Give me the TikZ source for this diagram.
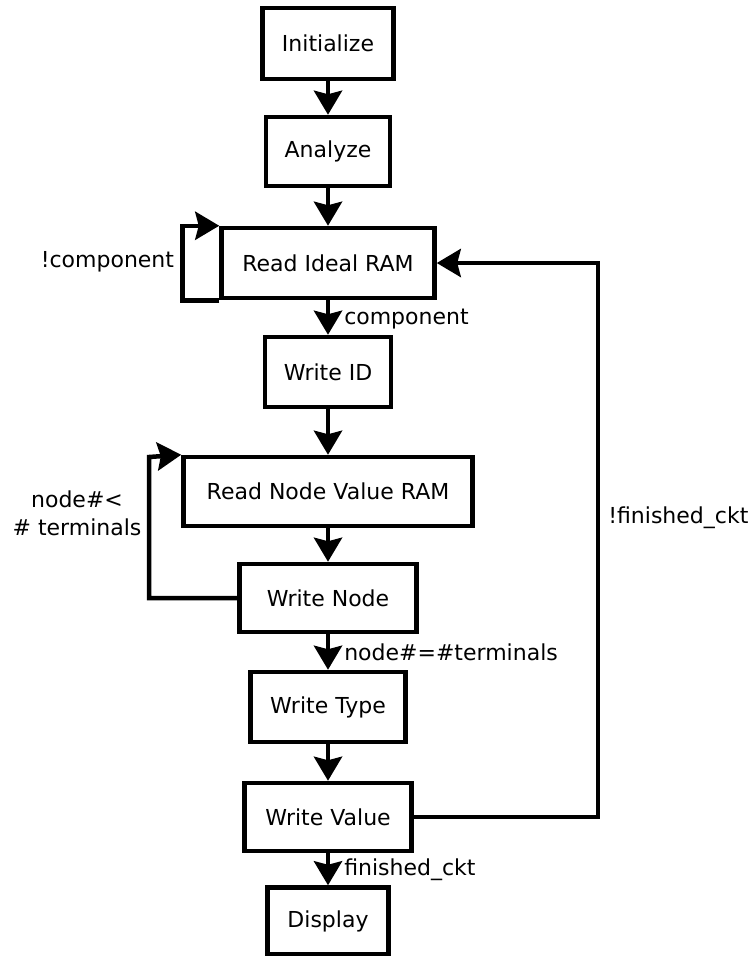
\documentclass[tikz,border=0pt]{standalone}
\usepackage{fontspec}
\setmainfont{DejaVu Sans}
\usetikzlibrary{arrows.meta,calc}
\tikzset{
	box/.style={draw,line width=4.5pt,inner sep=0pt,font=\fontsize{22}{28}\selectfont},
	flow/.style={line width=4.5pt,-{Stealth[length=24pt,width=28pt,inset=3.5pt]}},
	lbl/.style={font=\fontsize{22}{28}\selectfont,inner sep=2pt}
}
\begin{document}
\begin{tikzpicture}[x=1pt,y=-1pt]
	\useasboundingbox (0,0) rectangle (750,956);
	% main column of states
	\node[box,minimum width=131pt,minimum height=71pt] (init) at (328,43.5) {Initialize};
	\node[box,minimum width=124pt,minimum height=69pt] (analyze) at (328,151.5) {Analyze};
	\node[box,minimum width=213pt,minimum height=70pt] (readideal) at (328,263) {Read Ideal RAM};
	\node[box,minimum width=126pt,minimum height=70pt] (writeid) at (328,372) {Write ID};
	\node[box,minimum width=289pt,minimum height=69pt] (readnode) at (328,491.5) {Read Node Value RAM};
	\node[box,minimum width=177pt,minimum height=68pt] (writenode) at (328,598) {Write Node};
	\node[box,minimum width=155pt,minimum height=70pt] (writetype) at (328,707) {Write Type};
	\node[box,minimum width=167pt,minimum height=68pt] (writevalue) at (328,817) {Write Value};
	\node[box,minimum width=121pt,minimum height=67pt] (display) at (328,921) {Display};
	% straight transitions
	\draw[flow] (init) -- (analyze);
	\draw[flow] (analyze) -- (readideal);
	\draw[flow] (readideal) -- node[lbl,anchor=west,xshift=12pt,yshift=-2pt] {component} (writeid);
	\draw[flow] (writeid) -- (readnode);
	\draw[flow] (readnode) -- (writenode);
	\draw[flow] (writenode) -- node[lbl,anchor=west,xshift=12pt] {node\#=\#terminals} (writetype);
	\draw[flow] (writetype) -- (writevalue);
	\draw[flow] (writevalue) -- node[lbl,anchor=west,xshift=12pt] {finished\_ckt} (display);
	% loops back
	\coordinate (cmpleft) at ($(readideal.north west)+(-37,0)$);
	\draw[flow] (readideal.south west) -| (cmpleft) -- (readideal.north west);
	\node[lbl,anchor=east] (nocmp) at ($(cmpleft)+(-6,36)$) {!component};
	\coordinate (termleft) at (149,457);
	\draw[flow] (writenode.west) -| (termleft) -- (readnode.north west);
	\node[lbl,align=center] (lessterm) at (77,513) {node\#<\\\# terminals};
	\coordinate (ckturn) at (598,817);
	\draw[flow] (writevalue.east) -- (ckturn) -- node[lbl,anchor=west,pos=0.54,xshift=6pt] {!finished\_ckt} (ckturn |- readideal.east) -- (readideal.east);
\end{tikzpicture}
\end{document}
